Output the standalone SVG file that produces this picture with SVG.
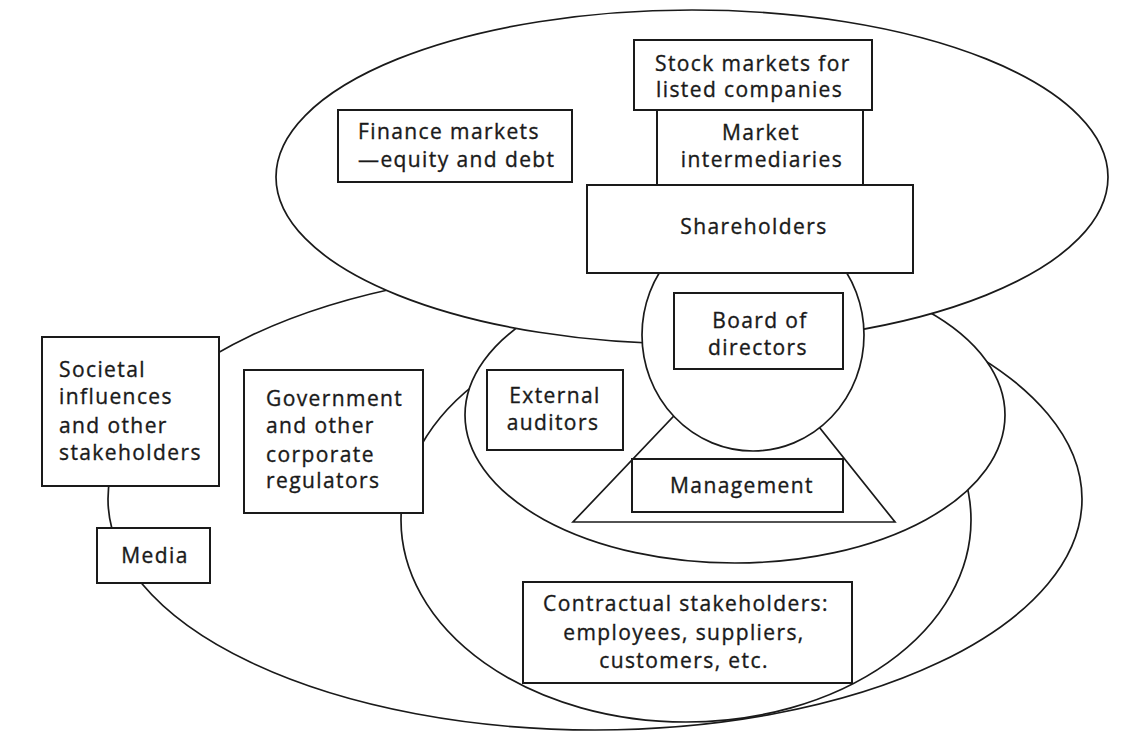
<svg xmlns="http://www.w3.org/2000/svg" width="1133" height="755" viewBox="0 0 1133 755">
  <style>
    .region { fill: #ffffff; stroke: #1a1a1a; stroke-width: 1.7; }
    .box { fill: #ffffff; stroke: #1a1a1a; stroke-width: 2; }
    .label { font-family: "Open Sans", "Noto Sans", "Liberation Sans", sans-serif; font-size: 21px; font-weight: 500; letter-spacing: 1.4px; fill: #1a1a1a; stroke: #1a1a1a; stroke-width: 0.35px; }
    .mid { text-anchor: middle; }
  </style>
  <rect x="0" y="0" width="1133" height="755" fill="#ffffff"/>

  <!-- overlapping spheres of influence, outermost first -->
  <g id="regions">
    <ellipse id="societal-sphere" class="region" cx="595" cy="499" rx="487" ry="231"/>
    <ellipse id="regulatory-sphere" class="region" cx="686" cy="520" rx="285" ry="202"/>
    <ellipse id="audit-sphere" class="region" cx="735" cy="415" rx="270" ry="148"/>
    <ellipse id="market-sphere" class="region" cx="692" cy="177" rx="416" ry="167"/>
    <polygon id="management-triangle" class="region" points="748,338 573,522 895,522"/>
    <ellipse id="board-sphere" class="region" cx="753" cy="335" rx="111" ry="116"/>
  </g>

  <g id="connectors"></g>

  <g id="finance-markets">
    <rect class="box" x="338" y="110" width="234" height="72"/>
    <text class="label" x="358" y="139">Finance markets</text>
    <text class="label" x="358" y="167">—equity and debt</text>
  </g>

  <g id="stock-markets">
    <rect class="box" x="634" y="40" width="238" height="70"/>
    <text class="label" x="655" y="71">Stock markets for</text>
    <text class="label" x="656" y="97">listed companies</text>
  </g>

  <g id="market-intermediaries">
    <rect class="box" x="657" y="110" width="206" height="75"/>
    <text class="label mid" x="761" y="140">Market</text>
    <text class="label mid" x="762" y="167">intermediaries</text>
  </g>

  <g id="shareholders">
    <rect class="box" x="587" y="185" width="326" height="88"/>
    <text class="label mid" x="754" y="234">Shareholders</text>
  </g>

  <g id="board-of-directors">
    <rect class="box" x="674" y="293" width="169" height="76"/>
    <text class="label mid" x="760" y="328">Board of</text>
    <text class="label mid" x="758" y="355">directors</text>
  </g>

  <g id="management">
    <rect class="box" x="632" y="459" width="211" height="53"/>
    <text class="label mid" x="742" y="493">Management</text>
  </g>

  <g id="external-auditors">
    <rect class="box" x="487" y="370" width="136" height="80"/>
    <text class="label mid" x="555" y="403">External</text>
    <text class="label mid" x="553" y="430">auditors</text>
  </g>

  <g id="government-regulators">
    <rect class="box" x="244" y="370" width="179" height="143"/>
    <text class="label" x="266" y="406">Government</text>
    <text class="label" x="266" y="433">and other</text>
    <text class="label" x="266" y="462">corporate</text>
    <text class="label" x="266" y="488">regulators</text>
  </g>

  <g id="societal-influences">
    <rect class="box" x="42" y="337" width="177" height="149"/>
    <text class="label" x="59" y="377">Societal</text>
    <text class="label" x="59" y="404">influences</text>
    <text class="label" x="59" y="433">and other</text>
    <text class="label" x="59" y="460">stakeholders</text>
  </g>

  <g id="media">
    <rect class="box" x="97" y="528" width="113" height="55"/>
    <text class="label mid" x="155" y="563">Media</text>
  </g>

  <g id="contractual-stakeholders">
    <rect class="box" x="523" y="582" width="329" height="101"/>
    <text class="label mid" x="686" y="611">Contractual stakeholders:</text>
    <text class="label mid" x="684" y="640">employees, suppliers,</text>
    <text class="label mid" x="684" y="668">customers, etc.</text>
  </g>
</svg>
